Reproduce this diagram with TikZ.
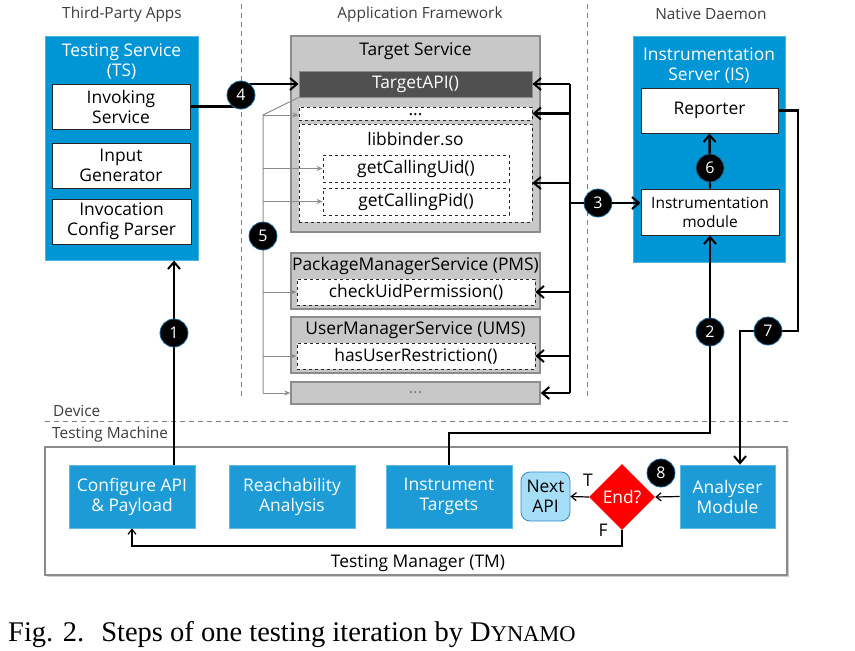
\documentclass[tikz,border=0pt]{standalone}
\usepackage{fontspec}
\setmainfont{Open Sans}
\newfontfamily\capfont{Liberation Serif}
\usetikzlibrary{arrows.meta,shapes.geometric,shadows,calc}
\definecolor{isblue}{RGB}{0,150,214}
\definecolor{tmblue}{RGB}{28,155,215}
\definecolor{gbox}{RGB}{200,200,200}
\definecolor{gline}{RGB}{140,140,140}
\definecolor{apigray}{RGB}{80,80,80}
\definecolor{nextfill}{RGB}{166,221,247}
\definecolor{nextline}{RGB}{50,140,200}
\definecolor{lbl}{RGB}{60,60,60}
\definecolor{numring}{RGB}{30,110,160}
\begin{document}
\begin{tikzpicture}[x=1pt,y=-1pt,
  bfont/.style={font=\fontsize{17.4}{20}\selectfont},
  wbox/.style={draw=black!85, line width=1pt, fill=white, align=center, inner sep=0pt, bfont},
  dbox/.style={draw=black!85, dashed, line width=0.8pt, fill=white, align=center, inner sep=0pt, bfont},
  gbx/.style={draw=gline, line width=1.5pt, fill=gbox, inner sep=0pt},
  bluebox/.style={draw=isblue!70!white, line width=1pt, fill=isblue, inner sep=0pt},
  tmbox/.style={fill=tmblue, draw=tmblue!70!white, line width=0.8pt, text=white, align=center, inner sep=0pt, bfont},
  ttl/.style={align=center, inner sep=0pt, bfont},
  coltitle/.style={text=lbl, inner sep=0pt, font=\fontsize{15.4}{18}\selectfont},
  num/.style={circle, fill=black, draw=numring, line width=0.8pt, minimum size=28pt, inner sep=0pt, text=white, font=\fontsize{16}{16}\selectfont},
  thk/.style={line width=2.4pt, black},
  arr/.style={thk, -{Straight Barb[length=7pt,width=12pt,line width=2pt]}},
  garr/.style={line width=1pt, gline, -{Stealth[length=6pt,width=5pt]}},
  sarr/.style={line width=1.2pt, black, -{Straight Barb[length=5pt,width=8pt,line width=1.2pt]}},
  sep/.style={gray, dashed, line width=0.8pt, dash pattern=on 5pt off 4pt}
]
\useasboundingbox (0,0) rectangle (855,651);

% column titles and separators
\node[coltitle] (c1) at (122,14) {Third-Party Apps};
\node[coltitle] (c2) at (420,14) {Application Framework};
\node[coltitle] (c3) at (711,14) {Native Daemon};
\coordinate (s1a) at (241,4); \coordinate (s1b) at (241,396);
\coordinate (s2a) at (587,4); \coordinate (s2b) at (587,398);
\coordinate (h1a) at (45,421); \coordinate (h1b) at (790,421);
\draw[sep] (s1a) -- (s1b);
\draw[sep] (s2a) -- (s2b);
\draw[sep] (h1a) -- (h1b);
\node[coltitle, anchor=west] (dev) at (53,411) {Device};
\node[coltitle, anchor=west] (tmach) at (52,434) {Testing Machine};

% Testing Service
\node[bluebox, minimum width=153pt, minimum height=224pt] (ts) at (121.5,148) {};
\node[ttl, text=white] (tst) at (121.5,61) {Testing Service\\(TS)};
\node[wbox, minimum width=138pt, minimum height=45pt] (inv) at (121,106.5) {Invoking\\Service};
\node[wbox, minimum width=138pt, minimum height=45pt] (inp) at (121,165.5) {Input\\Generator};
\node[wbox, minimum width=139pt, minimum height=45pt] (icp) at (121.5,221.5) {Invocation\\Config Parser};

% Target Service
\node[gbx, minimum width=249pt, minimum height=196pt] (tsvc) at (415.5,134) {};
\node[ttl] (tsvct) at (415.5,51) {Target Service};
\node[fill=apigray, draw=gline, line width=1pt, text=white, minimum width=233pt, minimum height=26pt, inner sep=0pt, bfont] (tapi) at (415.5,84) {TargetAPI()};
\node[dbox, minimum width=233pt, minimum height=13pt, text depth=0pt, text height=3pt] (dots1) at (415.5,113.5) {...};
\node[dbox, minimum width=233pt, minimum height=98pt] (lib) at (415.5,173) {};
\node[ttl] (libt) at (415.5,139) {libbinder.so};
\node[dbox, minimum width=186pt, minimum height=27pt] (uid) at (416,168.5) {getCallingUid()};
\node[dbox, minimum width=186pt, minimum height=27pt] (pid) at (416,201.5) {getCallingPid()};

\node[gbx, minimum width=249pt, minimum height=56pt] (pms) at (415.5,281) {};
\node[ttl] (pmst) at (415.5,266) {PackageManagerService (PMS)};
\node[dbox, minimum width=238pt, minimum height=26pt] (chk) at (416,292) {checkUidPermission()};
\node[gbx, minimum width=249pt, minimum height=56pt] (ums) at (415.5,345) {};
\node[ttl] (umst) at (415.5,330) {UserManagerService (UMS)};
\node[dbox, minimum width=238pt, minimum height=26pt] (hur) at (416,356) {hasUserRestriction()};
\node[gbx, minimum width=249pt, minimum height=22pt, text=gray, bfont] (dots2) at (415.5,393) {...};

% Instrumentation Server
\node[bluebox, minimum width=152pt, minimum height=226pt] (is) at (709,149) {};
\node[ttl, text=white] (ist) at (709,65) {Instrumentation\\Server (IS)};
\node[wbox, minimum width=137pt, minimum height=45pt] (rep) at (709.5,110.5) {Reporter};
\node[wbox, minimum width=138pt, minimum height=46pt, font=\fontsize{15.5}{19}\selectfont] (im) at (710,212) {Instrumentation\\module};

% Testing Manager
\node[draw=gline, line width=1.2pt, fill=white, drop shadow={shadow xshift=2pt, shadow yshift=-2pt, opacity=0.4}, minimum width=742pt, minimum height=128pt, inner sep=0pt] (tm) at (416,511) {};
\node[ttl] (tmt) at (418,563) {Testing Manager (TM)};
\node[tmbox, minimum width=126pt, minimum height=63pt] (cfg) at (132,496.5) {Configure API\\\& Payload};
\node[tmbox, minimum width=126pt, minimum height=63pt] (reach) at (292,496.5) {Reachability\\Analysis};
\node[tmbox, minimum width=126pt, minimum height=63pt] (it) at (449,496.5) {Instrument\\Targets};
\node[draw=nextline, line width=0.8pt, fill=nextfill, rounded corners=9pt, minimum width=49pt, minimum height=49pt, inner sep=0pt, align=center, bfont] (next) at (545.5,496.5) {Next\\API};
\node[diamond, fill=red, minimum width=66pt, minimum height=66pt, inner sep=0pt, text=white, bfont] (end) at (622,497) {End?};
\node[tmbox, minimum width=95pt, minimum height=63pt] (am) at (727.5,496.5) {Analyser\\Module};
\node[inner sep=0pt, bfont] (tl) at (588,480) {T};
\node[inner sep=0pt, bfont] (fl) at (603,530) {F};

% step 1
\coordinate (x1) at (174,0);
\draw[arr] (cfg.north -| x1) -- (ts.south -| x1);
\node[num] (n1) at (174,333) {1};

% step 4
\coordinate (x4) at (241,0);
\draw[arr] (inv.east) -- (inv.east -| x4) -- (tapi.west -| x4) -- (tapi.west);
\node[num] (n4) at (241,95) {4};

% bus (steps 3)
\coordinate (bx) at (570,0);
\draw[thk] (tapi.east -| bx) -- (dots2.east -| bx);
\draw[arr] (tapi.east -| bx) -- (tapi.east);
\draw[arr] (dots1.east -| bx) -- (dots1.east);
\draw[arr] ([yshift=-10pt]lib.east -| bx) -- ([yshift=-10pt]lib.east);
\draw[arr] (chk.east -| bx) -- (chk.east);
\draw[arr] (hur.east -| bx) -- (hur.east);
\draw[arr] (dots2.east -| bx) -- (dots2.east);
\coordinate (y3) at (0,203);
\node[num] (n3) at (598,203) {3};
\draw[thk] (bx |- y3) -- (n3);
\draw[arr] (n3) -- (im.west |- y3);

% step 5 (thin gray)
\coordinate (vx) at (263,0);
\coordinate (v5top) at (263,115);
\draw[line width=1pt, gline] (tapi.south west) -- (v5top) -- (dots2.west -| vx);
\draw[garr] (v5top) -- (dots1.west |- v5top);
\draw[garr] (uid.west -| vx) -- (uid.west);
\draw[garr] (pid.west -| vx) -- (pid.west);
\draw[garr] (chk.west -| vx) -- (chk.west);
\draw[garr] (hur.west -| vx) -- (hur.west);
\draw[garr] (dots2.west -| vx) -- (dots2.west);
\node[num] (n5) at (263,236) {5};

% step 6
\draw[arr] (im.north) -- (rep.south);
\node[num] (n6) at (710,168) {6};

% step 2
\coordinate (y2) at (0,433);
\draw[arr] (it.north) -- (it.north |- y2) -| (im.south);
\node[num] (n2) at (710,332) {2};

% step 7
\coordinate (c7a) at (798,331);
\coordinate (c7b) at (740,331);
\draw[arr] (rep.east) -| (c7a) -- (c7b) -- (c7b |- am.north);
\node[num] (n7) at (768,331) {7};

% step 8
\draw[sarr] (am.west) -- (end.east);
\draw[sarr] (end.west) -- (next.east);
\coordinate (yf) at (0,546);
\draw[sarr] (end.south) -- (end.south |- yf) -| (cfg.south);
\node[num] (n8) at (661,473) {8};

% caption
\node[anchor=base west, inner sep=0pt, font=\capfont\fontsize{28.5}{30}\selectfont] (cap) at (8,641) {Fig. 2.\hspace{0.6em}Steps of one testing iteration by D{\fontsize{22.5}{24}\selectfont YNAMO}};
\end{tikzpicture}
\end{document}
